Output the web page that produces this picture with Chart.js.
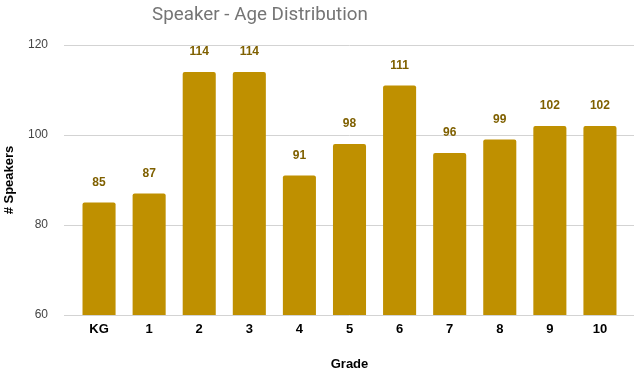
<!DOCTYPE html>
<html lang="en">
<head>
    <meta charset="UTF-8">
    <title>Speaker - Age Distribution</title>
    <script src="https://cdn.jsdelivr.net/npm/chart.js"></script>
    <style>
        html, body { margin: 0; padding: 0; background: #fff; }
        #wrap { width: 634px; height: 370px; }
    </style>
</head>
<body>
    <div id="wrap"><canvas id="ageChart" width="634" height="370"></canvas></div>

    <script>
        // data
        const grades = ['KG', '1', '2', '3', '4', '5', '6', '7', '8', '9', '10'];
        const speakers = [85, 87, 114, 114, 91, 98, 111, 96, 99, 102, 102];
        const yTicks = [60, 80, 100, 120];
        const chartTitle = 'Speaker - Age Distribution';

        const gridColor = '#d3d3d3';
        const font = 'Arial, "Liberation Sans", sans-serif';

        // numbers above each bar
        const barLabels = {
            id: 'barLabels',
            afterDatasetsDraw(chart) {
                const ctx = chart.ctx;
                const meta = chart.getDatasetMeta(0);
                ctx.save();
                ctx.font = 'bold 12px ' + font;
                ctx.fillStyle = '#7f6000';
                ctx.textAlign = 'center';
                ctx.textBaseline = 'middle';
                meta.data.forEach((bar, i) => {
                    ctx.fillText(speakers[i], bar.x, bar.y - 20);
                });
                ctx.restore();
            }
        };

        // title sits left of centre in the original, so draw it by hand
        const titleText = {
            id: 'titleText',
            afterDraw(chart) {
                const ctx = chart.ctx;
                ctx.save();
                ctx.font = '18.8px Roboto, Arial, sans-serif';
                ctx.fillStyle = '#757575';
                ctx.textAlign = 'center';
                ctx.textBaseline = 'alphabetic';
                ctx.fillText(chartTitle, 260, 20);
                ctx.restore();
            }
        };

        // gridlines run a bit past the right of the plot
        const gridExtend = {
            id: 'gridExtend',
            beforeDatasetsDraw(chart) {
                const ctx = chart.ctx;
                const y = chart.scales.y;
                const area = chart.chartArea;
                ctx.save();
                ctx.strokeStyle = gridColor;
                ctx.lineWidth = 1;
                yTicks.forEach(v => {
                    const py = Math.round(y.getPixelForValue(v)) + 0.5;
                    ctx.beginPath();
                    ctx.moveTo(area.right, py);
                    ctx.lineTo(area.right + 9, py);
                    ctx.stroke();
                });
                ctx.restore();
            }
        };

        new Chart(document.getElementById('ageChart'), {
            type: 'bar',
            data: {
                labels: grades,
                datasets: [{
                    data: speakers,
                    backgroundColor: '#bf9000',
                    borderRadius: 2,
                    categoryPercentage: 1,
                    barPercentage: 0.66
                }]
            },
            options: {
                responsive: false,
                animation: false,
                layout: { padding: { top: 45, right: 9 } },
                plugins: {
                    legend: { display: false },
                    tooltip: { enabled: false },
                    title: { display: false }
                },
                scales: {
                    x: {
                        afterFit(scale) { scale.height = 55; },
                        grid: { display: false, drawTicks: false },
                        border: { display: false },
                        ticks: {
                            color: '#000',
                            padding: 7,
                            font: { family: font, size: 13, weight: 'bold' }
                        },
                        title: {
                            display: true,
                            text: 'Grade',
                            color: '#000',
                            padding: { top: 0, bottom: 0 },
                            font: { family: font, size: 13, weight: 'bold', lineHeight: 0.9 }
                        }
                    },
                    y: {
                        min: 60,
                        max: 120,
                        afterFit(scale) { scale.width = 74; },
                        afterBuildTicks(scale) {
                            scale.ticks = yTicks.map(v => ({ value: v }));
                        },
                        grid: { color: gridColor, tickLength: 10, tickColor: gridColor },
                        border: { display: false },
                        ticks: {
                            color: '#444',
                            padding: 16,
                            font: { family: font, size: 12 }
                        },
                        title: {
                            display: true,
                            text: '# Speakers',
                            color: '#000',
                            padding: { top: 2, bottom: 0 },
                            font: { family: font, size: 13, weight: 'bold' }
                        }
                    }
                }
            },
            plugins: [barLabels, gridExtend, titleText]
        });
    </script>
</body>
</html>
